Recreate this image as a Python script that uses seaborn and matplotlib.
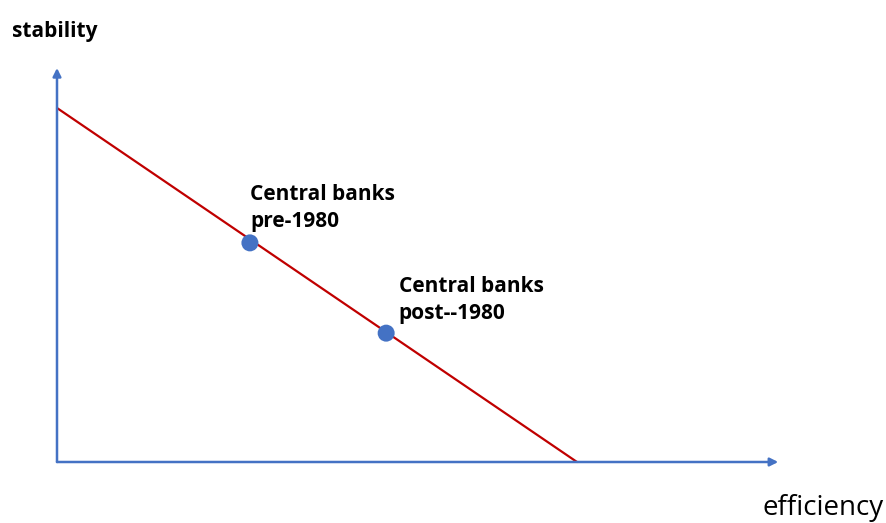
import matplotlib
matplotlib.use("Agg")
import matplotlib.pyplot as plt
import seaborn as sns
import pandas as pd

# Data
frontier_eff = [0, 10]
frontier_stab = [10, 0]
bank_labels = ["Central banks\npre-1980", "Central banks\npost--1980"]
bank_eff = [3.71, 6.33]
bank_stab = [6.19, 3.64]
x_axis_end = 13.87
y_axis_end = 11.13

blue = "#4472C4"
red = "#C00000"

sns.set_style("white")
plt.rcParams['font.family'] = ['Open Sans', 'DejaVu Sans']
plt.rcParams['text.color'] = 'black'

fig = plt.figure(figsize=(8.87, 5.23), dpi=100)
ax = fig.add_axes([0, 0, 1, 1])

# axis limits chosen so origin sits at the axes corner in the picture
ax.set_xlim(-57 / 52, (887 - 57) / 52)
ax.set_ylim(-(523 - 462) / 35.4, 462 / 35.4)

# arrows for the two axes
ax.annotate("", xy=(x_axis_end, 0), xytext=(0, 0),
            arrowprops=dict(arrowstyle="-|>", color=blue, lw=1.8, mutation_scale=12, shrinkA=0, shrinkB=0))
ax.annotate("", xy=(0, y_axis_end), xytext=(0, 0),
            arrowprops=dict(arrowstyle="-|>", color=blue, lw=1.8, mutation_scale=12, shrinkA=0, shrinkB=0))

frontier = pd.DataFrame({"efficiency": frontier_eff, "stability": frontier_stab})
sns.lineplot(data=frontier, x="efficiency", y="stability", color=red, lw=1.6, ax=ax)

banks = pd.DataFrame({"efficiency": bank_eff, "stability": bank_stab, "label": bank_labels})
sns.scatterplot(data=banks, x="efficiency", y="stability", color=blue, s=150, edgecolor="none", ax=ax, zorder=3)

# label offsets in points (last-line baseline)
offsets = [(0, 11.5), (9, 10)]
for (_, row), off in zip(banks.iterrows(), offsets):
    ax.annotate(row["label"], xy=(row["efficiency"], row["stability"]), xytext=off,
                textcoords="offset points", ha="left", va="baseline", fontsize=15,
                fontweight="bold", linespacing=1.4, color="black")

ax.axis("off")
fig.text(12 / 887, 1 - 37 / 523, "stability", fontsize=15, fontweight="bold", ha="left", va="baseline", color="black")
fig.text(763 / 887, 1 - 515 / 523, "efficiency", fontsize=20, ha="left", va="baseline", color="black")

fig.savefig("out.png", dpi=100)
